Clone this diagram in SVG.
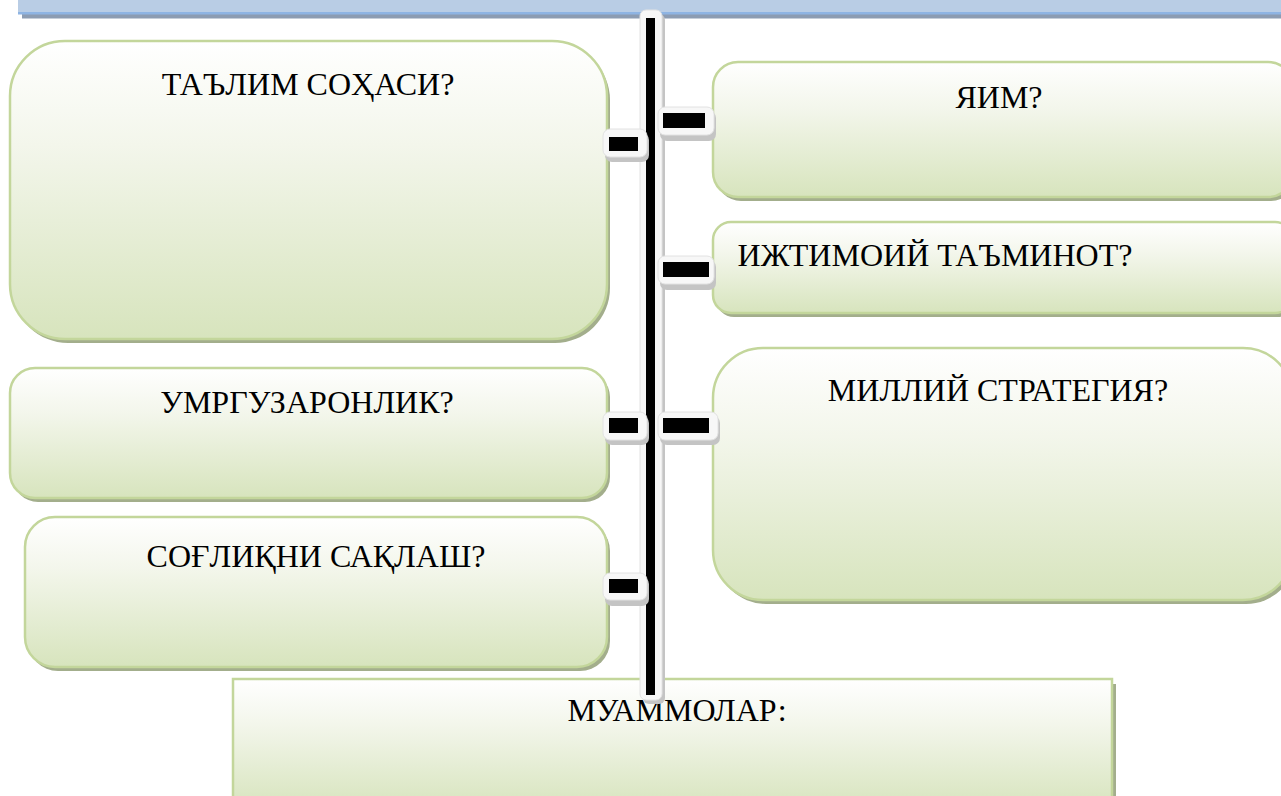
<svg xmlns="http://www.w3.org/2000/svg" width="1281" height="796" viewBox="0 0 1281 796">
<defs>
<linearGradient id="g" x1="0" y1="0" x2="0" y2="1">
<stop offset="0" stop-color="#ffffff"/>
<stop offset="0.35" stop-color="#f3f6eb"/>
<stop offset="1" stop-color="#d7e4bd"/>
</linearGradient>
<style>
.box{fill:url(#g);stroke:#c3d69b;stroke-width:2.5}
.sh{fill:#a3ae8c}
.t{font-family:"Liberation Serif","Times New Roman",serif;font-size:32px;fill:#000;text-anchor:middle}
.dw{fill:#f7f7f7;stroke:#e2e2e2;stroke-width:1}
.ds{fill:#c4c4c4}
.dk{fill:#000}
</style>
</defs>
<rect width="1281" height="796" fill="#ffffff"/>
<g id="topbar">
<rect x="22" y="4" width="1270" height="14.5" fill="#8c9cb2"/>
<rect x="18" y="-10" width="1270" height="24" fill="#b9cde5"/>
<rect x="18" y="12" width="1270" height="2.5" fill="#8eb4e3"/>
</g>
<g id="n1">
<rect class="sh" x="13" y="45" width="597" height="298" rx="55"/>
<rect class="box" x="10" y="41" width="597" height="298" rx="55"/>
<text class="t" x="308" y="95">ТАЪЛИМ СОҲАСИ?</text>
</g>
<g id="n2">
<rect class="sh" x="13" y="372" width="597" height="130" rx="25"/>
<rect class="box" x="10" y="368" width="597" height="130" rx="25"/>
<text class="t" x="307" y="413">УМРГУЗАРОНЛИК?</text>
</g>
<g id="n3">
<rect class="sh" x="28" y="521" width="582" height="150" rx="30"/>
<rect class="box" x="25" y="517" width="582" height="150" rx="30"/>
<text class="t" x="316" y="567">СОҒЛИҚНИ САҚЛАШ?</text>
</g>
<g id="n4">
<rect class="sh" x="716" y="66" width="580" height="135" rx="25"/>
<rect class="box" x="713" y="62" width="580" height="135" rx="25"/>
<text class="t" x="999" y="108">ЯИМ?</text>
</g>
<g id="n5">
<rect class="sh" x="716" y="226" width="580" height="91" rx="18"/>
<rect class="box" x="713" y="222" width="580" height="91" rx="18"/>
<text class="t" x="935" y="266">ИЖТИМОИЙ ТАЪМИНОТ?</text>
</g>
<g id="n6">
<rect class="sh" x="716" y="352" width="580" height="252" rx="50"/>
<rect class="box" x="713" y="348" width="580" height="252" rx="50"/>
<text class="t" x="998" y="401">МИЛЛИЙ СТРАТЕГИЯ?</text>
</g>
<g id="n7">
<rect x="1112" y="684" width="4" height="120" fill="#a3ae8c"/>
<rect class="box" x="233" y="679" width="879" height="130" stroke-width="3"/>
<text class="t" x="677" y="721">МУАММОЛАР:</text>
</g>
<g id="connectors">
<rect class="ds" x="643" y="14" width="22" height="690" rx="6"/>
<rect class="dw" x="640" y="10" width="22" height="690" rx="6"/>
<rect class="dk" x="646" y="18" width="9" height="677"/>
<rect class="ds" x="605" y="133" width="44" height="29" rx="7"/>
<rect class="dw" x="603" y="129" width="44" height="28" rx="7"/>
<rect class="dk" x="609" y="137" width="29" height="14"/>
<rect class="ds" x="660" y="111" width="56" height="30" rx="7"/>
<rect class="dw" x="658" y="107" width="56" height="28" rx="7"/>
<rect class="dk" x="663" y="113" width="42" height="15"/>
<rect class="ds" x="660" y="260" width="56" height="30" rx="7"/>
<rect class="dw" x="658" y="256" width="56" height="28" rx="7"/>
<rect class="dk" x="663" y="262" width="46" height="15"/>
<rect class="ds" x="605" y="416" width="44" height="29" rx="7"/>
<rect class="dw" x="603" y="412" width="44" height="28" rx="7"/>
<rect class="dk" x="609" y="418" width="29" height="15"/>
<rect class="ds" x="660" y="416" width="60" height="29" rx="7"/>
<rect class="dw" x="658" y="412" width="60" height="28" rx="7"/>
<rect class="dk" x="663" y="418" width="46" height="15"/>
<rect class="ds" x="605" y="577" width="44" height="29" rx="7"/>
<rect class="dw" x="603" y="573" width="44" height="27" rx="7"/>
<rect class="dk" x="609" y="579" width="29" height="14"/>
</g>
</svg>
